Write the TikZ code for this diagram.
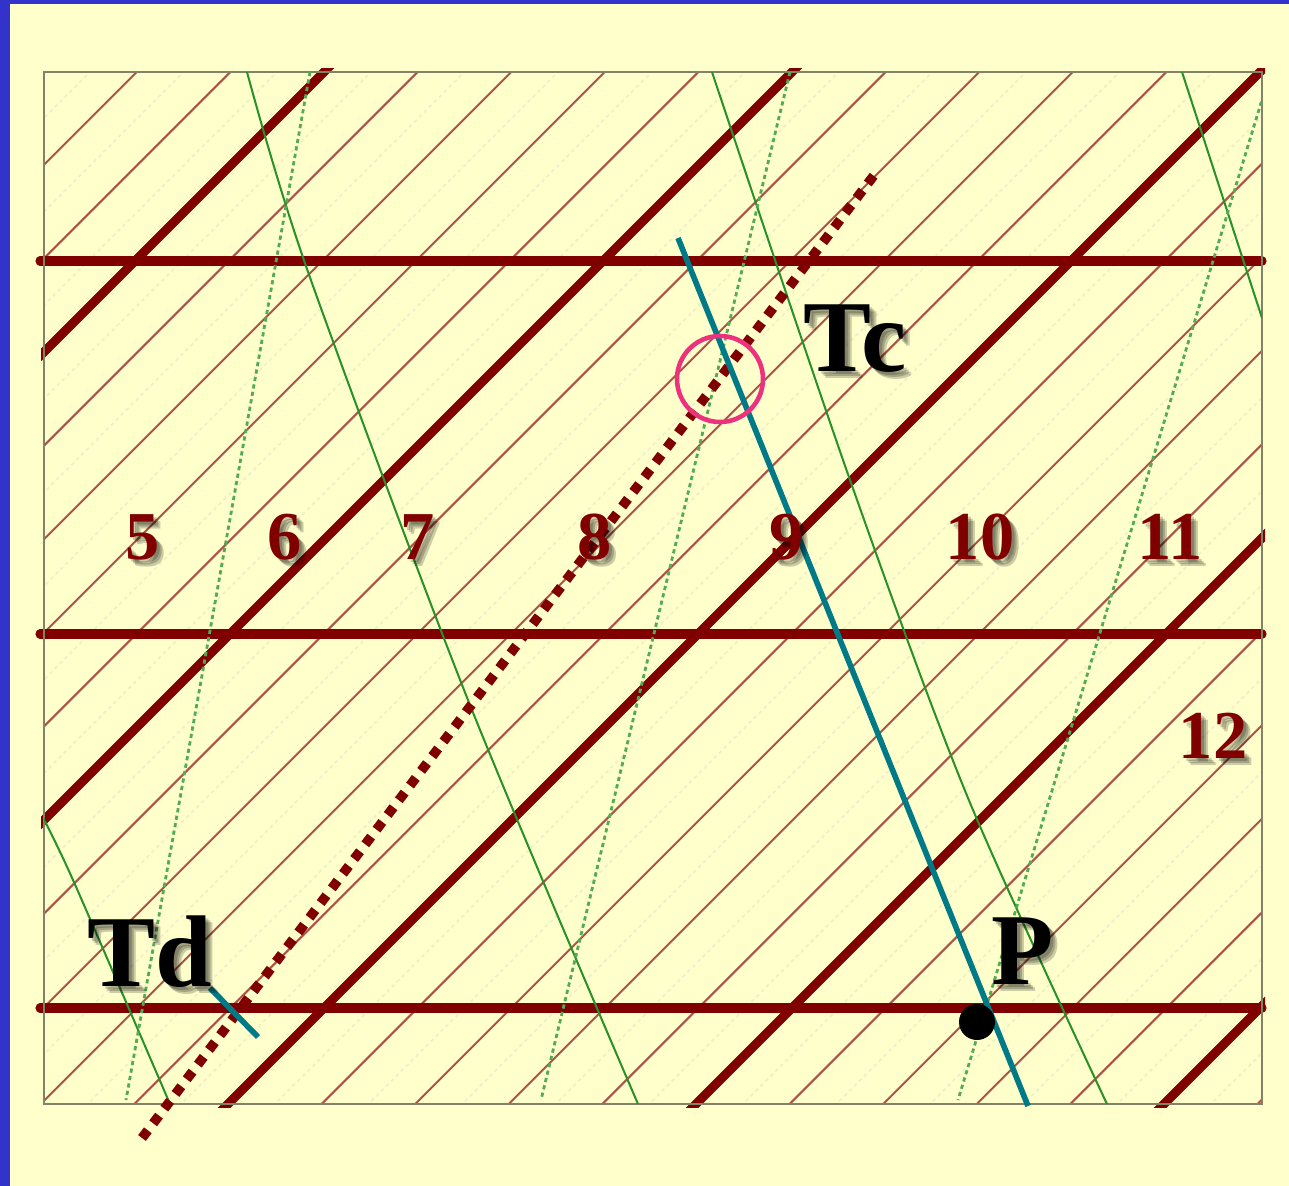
\documentclass[tikz,border=0pt]{standalone}
\usepackage{fontspec}
\setmainfont{Liberation Serif}
\usetikzlibrary{positioning}

\definecolor{bgyellow}{RGB}{255,255,204}
\definecolor{frameblue}{RGB}{51,51,204}
\definecolor{darkred}{RGB}{128,0,0}
\definecolor{thinred}{RGB}{172,82,72}
\definecolor{faintline}{RGB}{238,238,203}
\definecolor{adgreen}{RGB}{40,145,40}
\definecolor{mixgreen}{RGB}{85,170,85}
\definecolor{tealline}{RGB}{0,122,135}
\definecolor{ringpink}{RGB}{236,50,125}
\definecolor{boxgray}{RGB}{130,130,105}

\begin{document}
\begin{tikzpicture}[x=0.02cm,y=-0.02cm,
   isotherm/.style={thinred,line width=1.15pt},
   halfline/.style={faintline,line width=1pt,dash pattern=on 2pt off 2pt},
   thickred/.style={darkred,line width=5.2pt,line cap=round},
   dryad/.style={adgreen,line width=1.15pt},
   mixline/.style={mixgreen,line width=1.6pt,dash pattern=on 2.4pt off 1.9pt},
   dewline/.style={darkred,line width=5.5pt,dash pattern=on 5.5pt off 5pt},
   parcel/.style={tealline,line width=3.2pt},
   digit/.style={text=darkred,font=\fontsize{39}{40}\selectfont\bfseries,inner sep=0pt},
   bigtxt/.style={text=black,font=\fontsize{58}{60}\selectfont\bfseries,inner sep=0pt},
   txtshadow/.style={text=black,opacity=0.2,inner sep=0pt}
]
\useasboundingbox (0,0) rectangle (1289,1186);

% background and frame
\fill[bgyellow] (0,0) rectangle (1289,1186);
\fill[frameblue] (0,0) rectangle (10,1186);
\fill[frameblue] (0,0) rectangle (1289,4);

% =========== skewed isotherms (x+y = const) ============
\begin{scope}
  \clip (44,72) rectangle (1262,1104);
  \foreach \k in {-3,...,21} {
    \pgfmathsetmacro\c{396+93.6*\k}
    \pgfmathsetmacro\h{\c+46.8}
    \draw[halfline] (\h-1300,1300) -- (\h+200,-200);
    \draw[isotherm] (\c-1300,1300) -- (\c+200,-200);
  }
\end{scope}

\begin{scope}
  \clip (41,69) rectangle (1265,1107);
  \foreach \c in {396,864,1332,1800,2268} {
    \draw[thickred] (\c-1300,1300) -- (\c+200,-200);
  }
\end{scope}

% isobars
\foreach \y in {261,634,1008} {
  \draw[thickred] (40,\y) -- (1262,\y);
}

% chart frame
\draw[boxgray,line width=1.2pt] (44,72) rectangle (1262,1104);

% =========== dry adiabats and mixing ratio lines ============
\begin{scope}
  \clip (44,72) rectangle (1262,1104);
  \draw[dryad] plot[smooth] coordinates {(40,812) (73,880) (170,1104)};
  \draw[dryad] plot[smooth] coordinates {(247,72) (307,269) (468,700) (638,1104)};
  \draw[dryad] plot[smooth] coordinates {(712,72) (850,480) (968,798) (1107,1104)};
  \draw[dryad] (1182,72) -- (1262,318);

  \draw[mixline] (310,72) -- (126,1100);
  \draw[mixline] (790,72) -- (541,1100);
  \draw[mixline] (1268,80) -- (958,1100);
\end{scope}

% =========== sounding ============
\coordinate (dewtop) at (878,170);
\coordinate (dewbot) at (142,1138);
\draw[dewline] (dewbot) -- (dewtop);

\coordinate (partop) at (678,238);
\coordinate (parbot) at (1028,1106);
\draw[parcel] (partop) -- (parbot);
\coordinate (tdA) at (210,988);
\coordinate (tdB) at (258,1037);
\draw[parcel] (tdA) -- (tdB);

\draw[ringpink,line width=2.6pt] (720,379) circle (43);
\fill[black] (977,1022) circle (18);

% =========== labels (with soft drop shadow) ============
\foreach \t/\x/\y in {5/143/537,6/285/537,7/418/537,8/595/537,9/787/537,
                      10/980/537,11/1170/537,12/1213/736} {
  \foreach \d in {3,5,7}
    \node[txtshadow,font=\fontsize{39}{40}\selectfont\bfseries] at (\x+\d,\y+\d) {\t};
  \node[digit] (n\t) at (\x,\y) {\t};
}

\foreach \t/\x/\y in {Tc/855/339,Td/150/952,P/1023/951} {
  \foreach \d in {3,5,7}
    \node[txtshadow,font=\fontsize{58}{60}\selectfont\bfseries] at (\x+\d,\y+\d) {\t};
  \node[bigtxt] (lbl\t) at (\x,\y) {\t};
}

\end{tikzpicture}
\end{document}
